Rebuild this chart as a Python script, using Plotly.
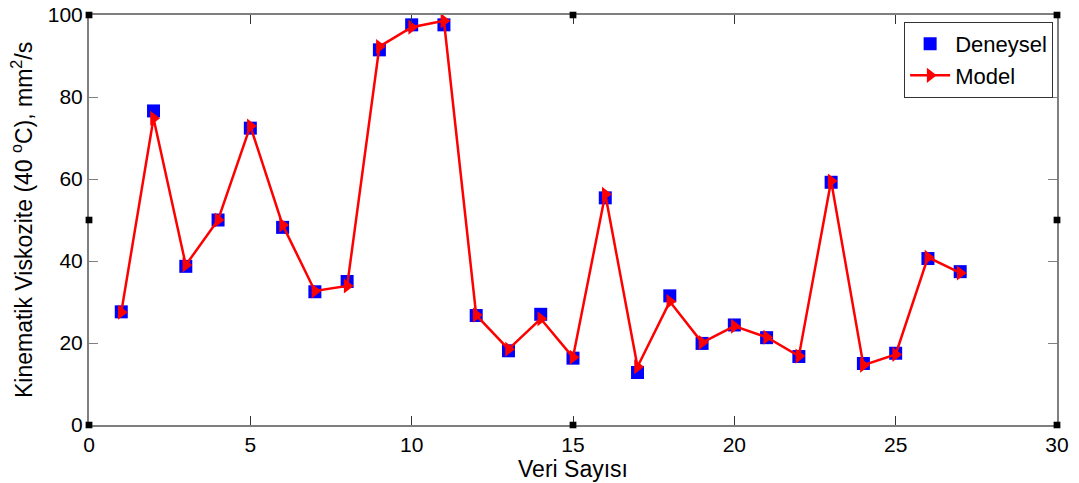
import plotly.graph_objects as go

# Sample index
veri_sayisi = list(range(1, 28))

# Measured kinematic viscosity at 40 °C (mm²/s)
deneysel = [27.6, 76.6, 38.7, 50.0, 72.4, 48.2, 32.5, 35.0, 91.5, 97.6,
            97.6, 26.7, 18.1, 27.0, 16.3, 55.4, 12.8, 31.5, 19.9, 24.4,
            21.3, 16.7, 59.2, 15.0, 17.5, 40.6, 37.4]

# Model predictions (mm²/s)
model = [27.5, 74.8, 39.0, 50.0, 72.9, 48.8, 32.7, 33.9, 92.3, 97.0,
         98.6, 26.8, 18.5, 25.9, 16.5, 56.3, 14.2, 30.1, 20.1, 24.1,
         21.4, 16.8, 59.5, 14.6, 17.2, 40.9, 37.1]

x_ticks = [0, 5, 10, 15, 20, 25, 30]
y_ticks = [0, 20, 40, 60, 80, 100]

FONT = "Liberation Sans, Arial, sans-serif"
AXIS_GREY = "#7f7f7f"
TICK_SIZE = 21
TITLE_SIZE = 23

fig = go.Figure()

fig.add_trace(go.Scatter(
    x=veri_sayisi, y=deneysel, name="Deneysel", mode="markers",
    marker=dict(symbol="square", size=13, color="#0000ff",
                line=dict(width=0)),
))

fig.add_trace(go.Scatter(
    x=veri_sayisi, y=model, name="Model", mode="lines+markers",
    line=dict(color="#ff0000", width=2.5),
    marker=dict(symbol="triangle-right", size=13, color="#ff0000",
                line=dict(width=0)),
))

axis_common = dict(
    showgrid=False, zeroline=False, showline=True, mirror="ticks",
    linecolor=AXIS_GREY, linewidth=2, ticks="inside", ticklen=9,
    tickwidth=1.2, automargin=False,
    tickfont=dict(family=FONT, size=TICK_SIZE, color="#000000"),
)

fig.update_xaxes(
    range=[0, 30], tickvals=x_ticks, ticktext=[str(v) for v in x_ticks],
    tickcolor="#333333",
    title=dict(text="Veri Sayısı", font=dict(family=FONT, size=TITLE_SIZE, color="#000000"),
               standoff=2),
    **axis_common,
)
fig.update_yaxes(
    range=[0, 100], tickvals=y_ticks, ticktext=[str(v) for v in y_ticks],
    tickcolor=AXIS_GREY,
    **axis_common,
)

# Y-axis title placed as a rotated annotation left of the tick labels
fig.add_annotation(
    text="Kinematik Viskozite (40 <sup>o</sup>C), mm<sup>2</sup>/s",
    xref="paper", yref="paper", x=0, y=0.5, xanchor="center", yanchor="middle",
    xshift=-67, textangle=-90, showarrow=False,
    font=dict(family=FONT, size=TITLE_SIZE, color="#000000"),
)

# Small black handles around the axes frame
handles = [(0, 0), (0, 0.5), (0, 1), (0.5, 0), (0.5, 1), (1, 0), (1, 0.5), (1, 1)]
hw, hh = 0.0035, 0.008
for hx, hy in handles:
    fig.add_shape(type="rect", xref="paper", yref="paper",
                  x0=hx - hw, x1=hx + hw, y0=hy - hh, y1=hy + hh,
                  fillcolor="#000000", line=dict(width=0), layer="above")

fig.update_layout(
    width=1079, height=483,
    margin=dict(l=89, r=22, t=15, b=58),
    plot_bgcolor="white", paper_bgcolor="white",
    font=dict(family=FONT, color="#000000"),
    showlegend=True,
    legend=dict(
        x=0.996, y=0.983, xanchor="right", yanchor="top",
        bgcolor="white", bordercolor="#333333", borderwidth=1,
        font=dict(family=FONT, size=22, color="#000000"),
        itemwidth=40, tracegroupgap=0,
    ),
)

fig.write_html("out.html")
